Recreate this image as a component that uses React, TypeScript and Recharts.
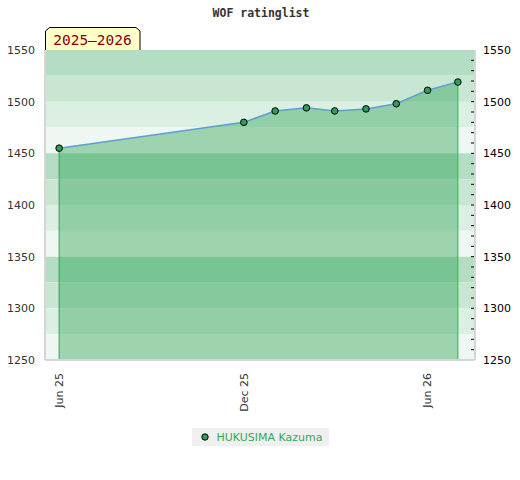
import React from 'react';
import {
  ComposedChart,
  Area,
  Scatter,
  XAxis,
  YAxis,
  ReferenceArea,
  ReferenceLine,
  Legend,
  Customized,
} from 'recharts';

// rating history of one player
const dates = [
  '2025-06-01',
  '2025-12-01',
  '2026-01-01',
  '2026-02-01',
  '2026-03-01',
  '2026-04-01',
  '2026-05-01',
  '2026-06-01',
  '2026-07-01',
];
const ratings = [1455, 1480, 1491, 1494, 1491, 1493, 1498, 1511, 1519];

const xTicks = ['2025-06-01', '2025-12-01', '2026-06-01'];
const xRange = ['2025-05-18', '2026-07-18'];
const yLabelTicks = [1250, 1300, 1350, 1400, 1450, 1500, 1550];
const yMinorStep = 10;
const bandStep = 25;

const playerName = 'HUKUSIMA Kazuma';
const title = 'WOF ratinglist';
const season = '2025–2026';

const MONTHS = ['Jan', 'Feb', 'Mar', 'Apr', 'May', 'Jun', 'Jul', 'Aug', 'Sep', 'Oct', 'Nov', 'Dec'];
const toTs = (d: string) => Date.parse(d + 'T00:00:00Z');
const fmtDate = (ts: number) => {
  const d = new Date(ts);
  return `${MONTHS[d.getUTCMonth()]} ${String(d.getUTCFullYear()).slice(2)}`;
};

const data = dates.map((d, i) => ({ t: toTs(d), rating: ratings[i] }));

const yMin = yLabelTicks[0];
const yMax = yLabelTicks[yLabelTicks.length - 1];
const xEnd = toTs(xRange[1]);

// minor tick marks of the right axis, placed at the right edge of the plot
const minorTicks: { t: number; v: number }[] = [];
for (let v = yMin + yMinorStep; v < yMax; v += yMinorStep) minorTicks.push({ t: xEnd, v });

const bandShades = ['#b3dec4', '#c9e6d3', '#dcefe3', '#eef7f1'];
const bands: { y1: number; y2: number; fill: string }[] = [];
for (let i = 0, top = yMax; top > yMin; i++, top -= bandStep) {
  bands.push({ y1: top - bandStep, y2: top, fill: bandShades[i % 4] });
}

const FONT = 'DejaVu Sans, sans-serif';
const GREEN = '#2e9e55';

const XTick = ({ x, y, payload }: any) => (
  <g transform={`translate(${x},${y})`}>
    <text
      transform="rotate(-90)"
      textAnchor="end"
      dy="0.35em"
      fontSize={11}
      fontFamily={FONT}
      fill="#333"
    >
      {fmtDate(payload.value)}
    </text>
  </g>
);

const MinorDash = ({ cx, cy }: any) => (
  <line x1={cx - 4} x2={cx - 1} y1={cy} y2={cy} stroke="#000" strokeWidth={1} />
);

const LegendBox = () => (
  <div style={{ display: 'flex', justifyContent: 'center' }}>
    <div
      style={{
        background: '#f0f0f0',
        height: 18,
        display: 'flex',
        alignItems: 'center',
        padding: '0 6px 0 8px',
        fontFamily: FONT,
        fontSize: 11,
        color: '#33aa55',
      }}
    >
      <svg width={10} height={10} style={{ marginRight: 7 }}>
        <circle cx={5} cy={5} r={3.2} fill={GREEN} stroke="#000" strokeWidth={1} />
      </svg>
      {playerName}
    </div>
  </div>
);

const Decorations = () => (
  <g>
    <text
      x={261}
      y={17}
      textAnchor="middle"
      fontFamily="DejaVu Sans Mono, monospace"
      fontWeight="bold"
      fontSize={11.5}
      fill="#333"
    >
      {title}
    </text>
    <path
      d="M45.5,50 L45.5,31 L49.5,27.5 L136,27.5 L140,31 L140,50"
      fill="#ffffc8"
      stroke="#000"
      strokeWidth={1}
    />
    <text
      x={92.5}
      y={45}
      textAnchor="middle"
      fontFamily="DejaVu Sans Mono, monospace"
      fontSize={14.5}
      fill="#8b0000"
    >
      {season}
    </text>
  </g>
);

export default function App() {
  const first = data[0];
  const last = data[data.length - 1];
  return (
    <div style={{ position: 'absolute', left: 0, top: 0, background: '#fff' }}>
      <ComposedChart
        width={520}
        height={480}
        data={data}
        margin={{ top: 50, right: 0, bottom: 34, left: 0 }}
      >
        <XAxis
          dataKey="t"
          type="number"
          scale="time"
          domain={[toTs(xRange[0]), xEnd]}
          ticks={xTicks.map(toTs)}
          tick={<XTick />}
          tickLine={false}
          tickSize={6}
          tickMargin={7}
          axisLine={{ stroke: '#d6d6d6', strokeWidth: 2 }}
          height={68}
          allowDataOverflow
        />
        <YAxis
          yAxisId="left"
          domain={[yMin, yMax]}
          ticks={yLabelTicks}
          width={45}
          tickLine={false}
          axisLine={{ stroke: '#d6d6d6', strokeWidth: 2 }}
          tick={{ fontSize: 11, fontFamily: FONT, fill: '#333' }}
          tickMargin={4}
        />
        <YAxis
          yAxisId="right"
          orientation="right"
          domain={[yMin, yMax]}
          ticks={yLabelTicks}
          width={45}
          tickSize={0}
          tickMargin={8}
          tickLine={false}
          axisLine={{ stroke: '#d6d6d6', strokeWidth: 2 }}
          tick={{ fontSize: 11, fontFamily: FONT, fill: '#000' }}
        />
        {bands.map((b, i) => (
          <ReferenceArea
            key={i}
            yAxisId="left"
            y1={b.y1}
            y2={b.y2}
            fill={b.fill}
            fillOpacity={1}
            stroke="none"
          />
        ))}
        <ReferenceArea
          yAxisId="left"
          y1={yMax}
          y2={yMax}
          stroke="#d6d6d6"
          strokeWidth={2}
          fill="none"
        />
        <Area
          yAxisId="left"
          type="linear"
          dataKey="rating"
          name={playerName}
          baseValue={yMin}
          stroke="#5b9fd6"
          strokeWidth={1.5}
          fill="#239d4c"
          fillOpacity={0.4}
          dot={{ r: 3.3, fill: GREEN, stroke: '#000', strokeWidth: 1, fillOpacity: 1 }}
          activeDot={false}
          isAnimationActive={false}
        />
        <Scatter
          yAxisId="right"
          data={minorTicks}
          dataKey="v"
          shape={<MinorDash />}
          legendType="none"
          isAnimationActive={false}
        />
        <ReferenceLine
          yAxisId="left"
          segment={[
            { x: first.t, y: first.rating },
            { x: first.t, y: yMin },
          ]}
          stroke="#3c9a5c"
          strokeWidth={1}
        />
        <ReferenceLine
          yAxisId="left"
          segment={[
            { x: last.t, y: last.rating },
            { x: last.t, y: yMin },
          ]}
          stroke="#3cc258"
          strokeWidth={1.2}
        />
        <Legend verticalAlign="bottom" height={18} content={<LegendBox />} />
        <Customized component={<Decorations />} />
      </ComposedChart>
    </div>
  );
}
